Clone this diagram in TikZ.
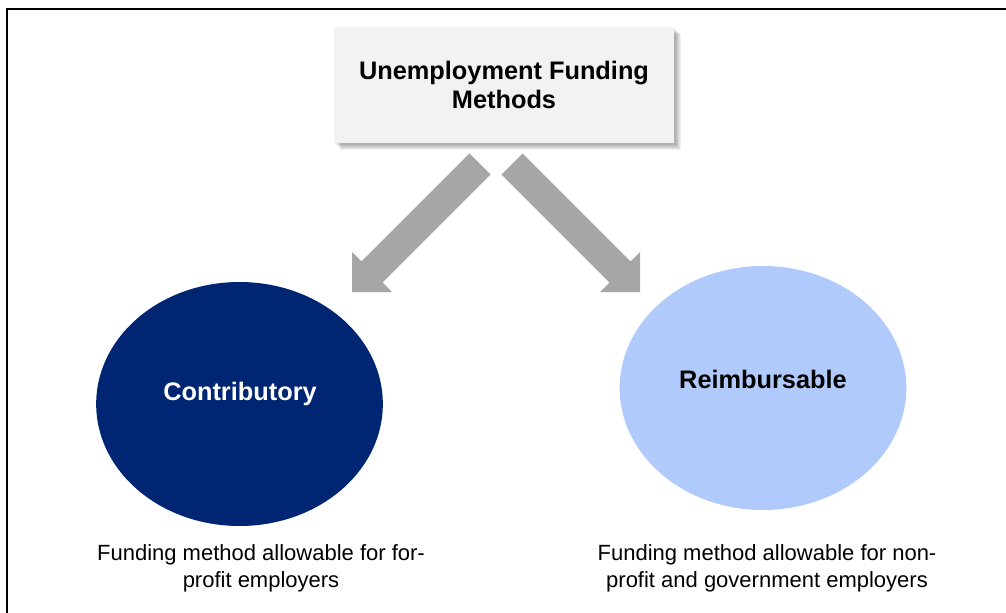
\documentclass[tikz,border=0pt]{standalone}
\usepackage{fontspec}
\setmainfont{Liberation Sans}
\usetikzlibrary{shapes.geometric}
\definecolor{navy}{RGB}{0,38,115}
\definecolor{lightblue}{RGB}{176,202,252}
\definecolor{boxgray}{RGB}{242,242,242}
\definecolor{arrowgray}{RGB}{166,166,166}
\tikzset{
  titlebox/.style={fill=boxgray, minimum width=255pt, minimum height=87pt, inner sep=0pt, align=center,
    font=\fontsize{19}{21.75}\selectfont\bfseries},
  bubble/.style={ellipse, minimum width=215pt, minimum height=183pt, inner sep=0pt},
  bubbletext/.style={font=\fontsize{19}{22}\selectfont\bfseries},
  caption/.style={align=center, font=\fontsize{16.5}{20.25}\selectfont, inner sep=0pt},
  blockarrow/.style={fill=arrowgray, draw=none},
  frame/.style={line width=1.5pt, black}
}
\begin{document}
\begin{tikzpicture}[x=0.75pt,y=-0.75pt]
\useasboundingbox (0,0) rectangle (1006,613);
% frame
\coordinate (fa) at (7,613);
\coordinate (fb) at (7,9);
\coordinate (fc) at (1006,9);
\draw[frame] (fa) -- (fb) -- (fc);
% soft shadow of title box
\foreach \o in {7,6,5,4,3,2}{
  \fill[black, opacity=0.06] (334+\o,27+\o) rectangle (674+\o,143+\o);
}
\node[titlebox] (title) at (504,85) {Unemployment Funding\\Methods};
% ellipses
\node[bubble, fill=navy] (c1) at (239.5,404) {};
\node[bubble, fill=lightblue] (c2) at (763,388) {};
\node[bubbletext, text=white] (t1) at (240,394) {Contributory};
\node[bubbletext, text=black] (t2) at (763,379) {Reimbursable};
% captions
\node[caption] (cap1) at (261,568) {Funding method allowable for for-\\profit employers};
\node[caption] (cap2) at (767,568) {Funding method allowable for non-\\profit and government employers};
% left block arrow
\coordinate (la1) at (469.4,153.4);
\coordinate (la2) at (490.6,174.6);
\coordinate (la3) at (382.6,282.6);
\coordinate (la4) at (392,292);
\coordinate (la5) at (352,292);
\coordinate (la6) at (352,252);
\coordinate (la7) at (361.4,261.4);
\fill[blockarrow] (la1) -- (la2) -- (la3) -- (la4) -- (la5) -- (la6) -- (la7) -- cycle;
% right block arrow
\coordinate (ra1) at (522.6,153.4);
\coordinate (ra2) at (501.4,174.6);
\coordinate (ra3) at (609.4,282.6);
\coordinate (ra4) at (600,292);
\coordinate (ra5) at (640,292);
\coordinate (ra6) at (640,252);
\coordinate (ra7) at (630.6,261.4);
\fill[blockarrow] (ra1) -- (ra2) -- (ra3) -- (ra4) -- (ra5) -- (ra6) -- (ra7) -- cycle;
\end{tikzpicture}
\end{document}
